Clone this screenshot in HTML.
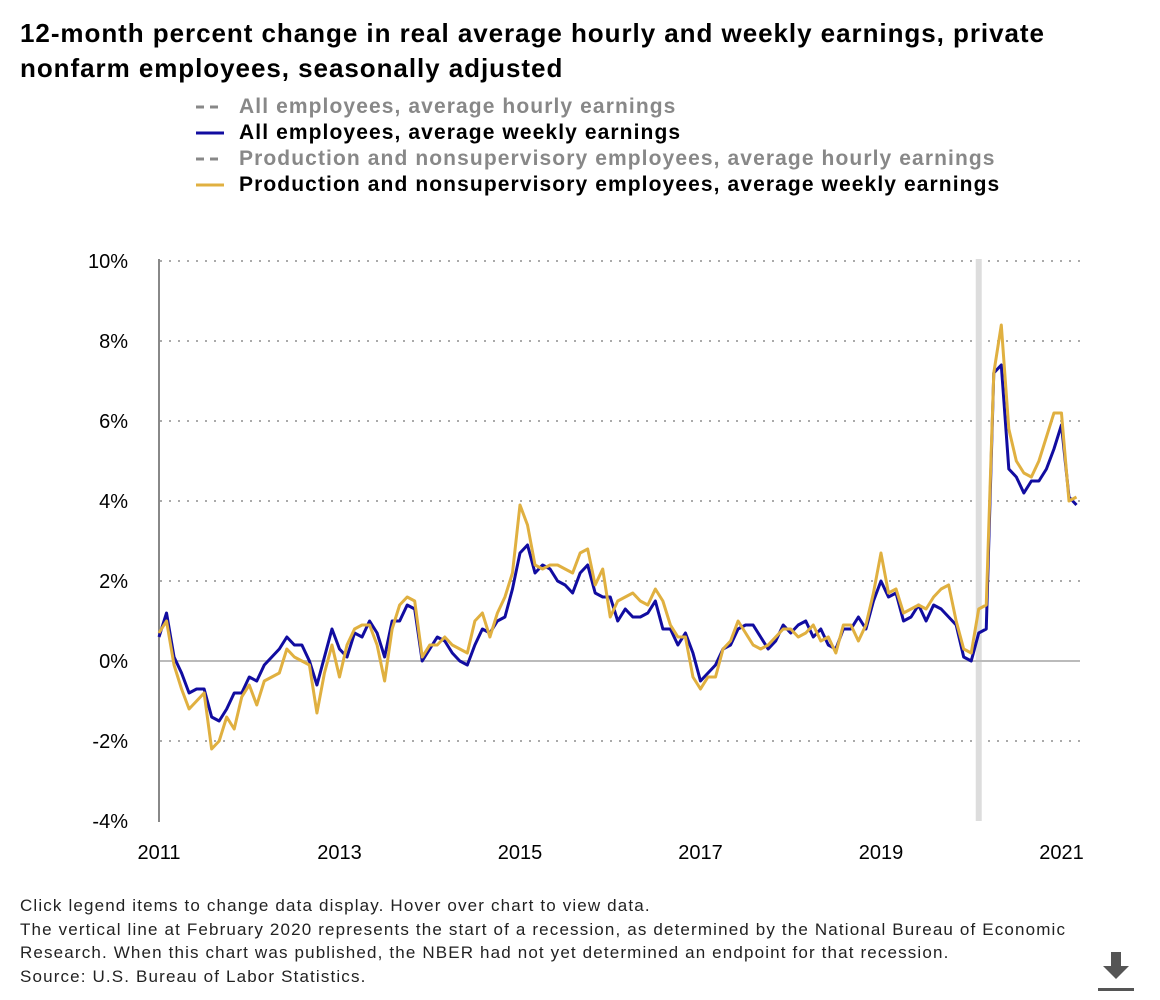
<!DOCTYPE html>
<html><head><meta charset="utf-8"><style>
body{margin:0;background:#fff;font-family:"Liberation Sans",Arial,sans-serif;}
#t{position:absolute;left:20px;top:16px;font-size:26px;letter-spacing:0.95px;font-weight:bold;line-height:35px;color:#000;width:1100px}
.lg{position:absolute;left:196px;font-size:21px;letter-spacing:1.1px;font-weight:bold;height:26px;line-height:26px;cursor:pointer;white-space:nowrap}
.lg svg{vertical-align:middle;margin-right:15px}
#foot{position:absolute;left:20px;top:894px;font-size:17px;letter-spacing:1.15px;line-height:23.5px;color:#222;white-space:nowrap}
</style></head><body>
<div id="t">12-month percent change in real average hourly and weekly earnings, private<br>nonfarm employees, seasonally adjusted</div>
<div class="lg" style="top:94px;color:#888"><svg width="28" height="4"><line x1="0" y1="2" x2="28" y2="2" stroke="#888" stroke-width="3" stroke-dasharray="8,6"/></svg>All employees, average hourly earnings</div>
<div class="lg" style="top:120px;color:#000"><svg width="28" height="4"><line x1="0" y1="2" x2="28" y2="2" stroke="#110ca0" stroke-width="3"/></svg>All employees, average weekly earnings</div>
<div class="lg" style="top:146px;color:#888"><svg width="28" height="4"><line x1="0" y1="2" x2="28" y2="2" stroke="#888" stroke-width="3" stroke-dasharray="8,6"/></svg>Production and nonsupervisory employees, average hourly earnings</div>
<div class="lg" style="top:172px;color:#000"><svg width="28" height="4"><line x1="0" y1="2" x2="28" y2="2" stroke="#e0b040" stroke-width="3"/></svg>Production and nonsupervisory employees, average weekly earnings</div>
<svg id="c" width="1160" height="1000" style="position:absolute;left:0;top:0"></svg>
<div id="foot">Click legend items to change data display. Hover over chart to view data.<br>The vertical line at February 2020 represents the start of a recession, as determined by the National Bureau of Economic<br>Research. When this chart was published, the NBER had not yet determined an endpoint for that recession.<br>Source: U.S. Bureau of Labor Statistics.</div>
<svg width="36" height="40" style="position:absolute;left:1098px;top:952px"><path d="M13 0h10v14h8L18 27 5 14h8z" fill="#555"/><rect x="0" y="36" width="36" height="3" fill="#555"/></svg>
<script>
const yTicks=[10,8,6,4,2,0,-2,-4];
const xTickYears=[2011,2013,2015,2017,2019,2021];
const weekly=[0.6,1.2,0.1,-0.3,-0.8,-0.7,-0.7,-1.4,-1.5,-1.2,-0.8,-0.8,
-0.4,-0.5,-0.1,0.1,0.3,0.6,0.4,0.4,0.0,-0.6,0.1,0.8,
0.3,0.1,0.7,0.6,1.0,0.7,0.1,1.0,1.0,1.4,1.3,0.0,
0.3,0.6,0.5,0.2,0.0,-0.1,0.4,0.8,0.7,1.0,1.1,1.8,
2.7,2.9,2.2,2.4,2.3,2.0,1.9,1.7,2.2,2.4,1.7,1.6,
1.6,1.0,1.3,1.1,1.1,1.2,1.5,0.8,0.8,0.4,0.7,0.2,
-0.5,-0.3,-0.1,0.3,0.4,0.8,0.9,0.9,0.6,0.3,0.5,0.9,
0.7,0.9,1.0,0.6,0.8,0.4,0.3,0.8,0.8,1.1,0.8,1.5,
2.0,1.6,1.7,1.0,1.1,1.4,1.0,1.4,1.3,1.1,0.9,0.1,
0.0,0.7,0.8,7.2,7.4,4.8,4.6,4.2,4.5,4.5,4.8,5.3,
5.9,4.1,3.9];
const prodWeekly=[0.7,1.0,-0.1,-0.7,-1.2,-1.0,-0.8,-2.2,-2.0,-1.4,-1.7,-0.9,
-0.6,-1.1,-0.5,-0.4,-0.3,0.3,0.1,0.0,-0.1,-1.3,-0.3,0.4,
-0.4,0.4,0.8,0.9,0.9,0.4,-0.5,0.8,1.4,1.6,1.5,0.1,
0.4,0.4,0.6,0.4,0.3,0.2,1.0,1.2,0.6,1.2,1.6,2.2,
3.9,3.4,2.4,2.3,2.4,2.4,2.3,2.2,2.7,2.8,1.9,2.3,
1.1,1.5,1.6,1.7,1.5,1.4,1.8,1.5,0.9,0.6,0.6,-0.4,
-0.7,-0.4,-0.4,0.3,0.5,1.0,0.7,0.4,0.3,0.4,0.6,0.8,
0.8,0.6,0.7,0.9,0.5,0.6,0.2,0.9,0.9,0.5,0.9,1.7,
2.7,1.7,1.8,1.2,1.3,1.4,1.3,1.6,1.8,1.9,1.0,0.3,
0.2,1.3,1.4,7.2,8.4,5.8,5.0,4.7,4.6,5.0,5.6,6.2,
6.2,4.0,4.1];
const recessionStart=109;
const NS="http://www.w3.org/2000/svg",svg=document.getElementById('c');
const x0=159,x1=1076.5,nM=122;
const xS=i=>x0+i*(x1-x0)/nM;
const yS=v=>661-v*40;
function mk(tag,attrs,txt){const e=document.createElementNS(NS,tag);for(const k in attrs)e.setAttribute(k,attrs[k]);if(txt!==undefined)e.textContent=txt;svg.appendChild(e);return e;}
yTicks.forEach(v=>{
 if(v!==0&&v!==-4){const g=mk('line',{x1:160,x2:1080,y1:yS(v),y2:yS(v),stroke:'#aaa','stroke-width':2,'stroke-dasharray':'2,7'});
 
 }
 const t=mk('text',{x:128,y:yS(v)+7,'text-anchor':'end','font-size':20,fill:'#000'},v+'%');
 
 
});
const rb=mk('rect',{x:xS(recessionStart)-3,y:259,width:6,height:562,fill:'#ddd'});


const zl=mk('line',{x1:160,x2:1080,y1:yS(0),y2:yS(0),stroke:'#bbb','stroke-width':2});


const ax=mk('line',{x1:159,x2:159,y1:259,y2:822,stroke:'#888','stroke-width':2});


xTickYears.forEach(yr=>{
 const t=mk('text',{x:xS((yr-2011)*12),y:859,'text-anchor':'middle','font-size':20,fill:'#000'},String(yr));
 
 
});
function line(d,col,name){
 const p=mk('polyline',{points:d.map((v,i)=>xS(i)+','+yS(v)).join(' '),fill:'none',stroke:col,'stroke-width':3,'stroke-linejoin':'round'});
 
 
}
line(weekly,'#110ca0','series-all-weekly');
line(prodWeekly,'#e0b040','series-prod-weekly');
</script>
</body></html>
